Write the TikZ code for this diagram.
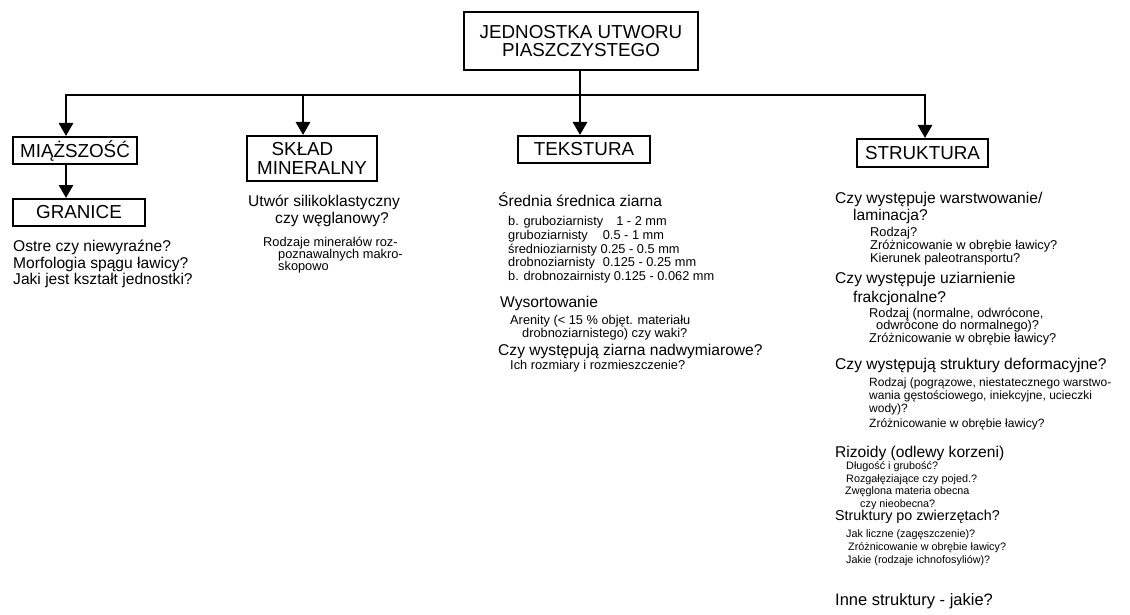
\documentclass[tikz,border=0pt]{standalone}
\usepackage{fontspec}
\setmainfont{Liberation Sans}
\usetikzlibrary{arrows.meta}
\begin{document}
\begin{tikzpicture}[x=1pt,y=-1pt,
  box/.style={draw,line width=2pt,inner sep=0pt,align=center,font=\fontsize{18.8}{18.5}\selectfont},
  conn/.style={line width=2.8pt,-{Triangle[width=14pt,length=13pt]}},
  big/.style={anchor=base west,inner sep=0pt,font=\fontsize{15.6}{16}\selectfont},
  mid/.style={anchor=base west,inner sep=0pt,font=\fontsize{14.3}{15}\selectfont},
  inne/.style={anchor=base west,inner sep=0pt,font=\fontsize{16.5}{17}\selectfont},
  sm/.style={anchor=base west,inner sep=0pt,font=\fontsize{12.8}{13}\selectfont},
  smd/.style={anchor=base west,inner sep=0pt,font=\fontsize{12}{12.5}\selectfont},
  tiny/.style={anchor=base west,inner sep=0pt,font=\fontsize{10.8}{11}\selectfont}]
\useasboundingbox (0,0) rectangle (1130,615);

% boxes
\node[box,minimum width=234pt,minimum height=58pt] (top) at (581,41) {JEDNOSTKA UTWORU\\PIASZCZYSTEGO};
\node[box,minimum width=124pt,minimum height=27pt] (mia) at (75,150.5) {MIĄŻSZOŚĆ};
\node[box,minimum width=132pt,minimum height=27pt] (gra) at (79,212.5) {GRANICE};
\node[box,minimum width=130pt,minimum height=45pt] (skl) at (312,158.5) {SKŁAD\hspace*{19pt}\\MINERALNY};
\node[box,minimum width=132pt,minimum height=27pt] (tek) at (584,149.5) {TEKSTURA};
\node[box,minimum width=131pt,minimum height=28pt] (str) at (922.5,153) {STRUKTURA};

% connectors
\coordinate (bus) at (580,95);
\coordinate (busL) at (66,95);
\coordinate (busS) at (303,95);
\coordinate (busR) at (925,95);
\draw[conn] (top.south -| bus) -- (tek.north -| bus);
\draw[conn] (bus) -| (mia.north -| busL);
\draw[conn] (bus) -| (str.north -| busR);
\draw[conn] (busS) -- (skl.north -| busS);
\draw[conn] (mia.south -| busL) -- (gra.north -| busL);

% left column
\node[big] (l1) at (13,251) {Ostre czy niewyraźne?};
\node[big] (l2) at (13,268) {Morfologia spągu ławicy?};
\node[big] (l3) at (13,284.5) {Jaki jest kształt jednostki?};

% sklad
\node[big] (s1) at (248,206) {Utwór silikoklastyczny};
\node[big] (s2) at (275,223) {czy węglanowy?};
\node[sm] (s3) at (263,246.5) {Rodzaje minerałów roz-};
\node[sm] (s4) at (278,258.5) {poznawalnych makro-};
\node[sm] (s5) at (278,270.5) {skopowo};

% tekstura
\node[big] (t1) at (498,206) {Średnia średnica ziarna};
\node[sm] (t2) at (508,225) {b. gruboziarnisty\hspace{13pt}1 - 2 mm};
\node[sm] (t3) at (508,239) {gruboziarnisty\hspace{15pt}0.5 - 1 mm};
\node[sm] (t4) at (508,253) {średnioziarnisty 0.25 - 0.5 mm};
\node[sm] (t5) at (508,266) {drobnoziarnisty\hspace{8pt}0.125 - 0.25 mm};
\node[sm] (t6) at (508,280) {b. drobnozairnisty 0.125 - 0.062 mm};
\node[big] (t7) at (500,307) {Wysortowanie};
\node[sm] (t8) at (510,324) {Arenity (< 15 \% objęt. materiału};
\node[sm] (t9) at (522,337) {drobnoziarnistego) czy waki?};
\node[big] (t10) at (498,355) {Czy występują ziarna nadwymiarowe?};
\node[sm] (t11) at (510,369) {Ich rozmiary i rozmieszczenie?};

% struktura
\node[big] (r1) at (835,203) {Czy występuje warstwowanie/};
\node[big] (r2) at (853,220) {laminacja?};
\node[sm] (r3) at (870,236) {Rodzaj?};
\node[sm] (r4) at (870,249) {Zróżnicowanie w obrębie ławicy?};
\node[sm] (r5) at (870,262) {Kierunek paleotransportu?};
\node[big] (r6) at (835,283) {Czy występuje uziarnienie};
\node[big] (r7) at (853,302) {frakcjonalne?};
\node[sm] (r8) at (869,317) {Rodzaj (normalne, odwrócone,};
\node[sm] (r9) at (876,329) {odwrócone do normalnego)?};
\node[sm] (r10) at (869,342) {Zróżnicowanie w obrębie ławicy?};
\node[big] (r11) at (835,369.5) {Czy występują struktury deformacyjne?};
\node[smd] (r12) at (869,386) {Rodzaj (pogrązowe, niestatecznego warstwo-};
\node[smd] (r13) at (869,399) {wania gęstościowego, iniekcyjne, ucieczki};
\node[smd] (r14) at (869,412) {wody)?};
\node[smd] (r15) at (869,427) {Zróżnicowanie w obrębie ławicy?};
\node[big] (r16) at (835,457) {Rizoidy (odlewy korzeni)};
\node[tiny] (r17) at (846,469.5) {Długość i grubość?};
\node[tiny] (r18) at (846,482) {Rozgałęziające czy pojed.?};
\node[tiny] (r19) at (845,494.5) {Zwęglona materia obecna};
\node[tiny] (r20) at (860,507) {czy nieobecna?};
\node[mid] (r21) at (835,520) {Struktury po zwierzętach?};
\node[tiny] (r22) at (846,537) {Jak liczne (zagęszczenie)?};
\node[tiny] (r23) at (848,550) {Zróżnicowanie w obrębie ławicy?};
\node[tiny] (r24) at (846,563) {Jakie (rodzaje ichnofosyliów)?};
\node[inne] (r25) at (835,605) {Inne struktury - jakie?};
\end{tikzpicture}
\end{document}
